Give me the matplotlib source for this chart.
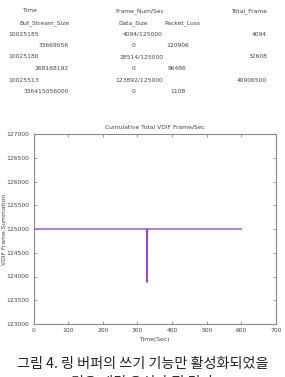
import matplotlib
matplotlib.use("Agg")
import matplotlib.pyplot as plt

# ---- data ----
header_top = ["Time", "Frame_Num/Sec", "Total_Frame"]
header_bottom = ["Buf_Stream_Size", "Data_Size", "Packet_Loss"]
rec_time = ["10025185", "10025186", "10025513"]
rec_frame_num = ["4094/125000", "28514/125000", "123892/125000"]
rec_total = ["4094", "32608", "40906500"]
rec_buf = ["33669056", "268168192", "336415056000"]
rec_data = ["0", "0", "0"]
rec_loss = ["120906", "96486", "1108"]

time_sec = [0, 1, 2, 327, 328, 329, 600]
frames_per_sec = [4094, 125000, 125000, 125000, 123880, 125000, 125000]

xticks = [0, 100, 200, 300, 400, 500, 600, 700]
yticks = [123000, 123500, 124000, 124500, 125000, 125500, 126000, 126500, 127000]

title = "Cumulative Total VDIF Frame/Sec"
xlabel = "Time(Sec)"
ylabel = "VDIF Frame Summation"
caption1 = "그림 4. 링 버퍼의 쓰기 기능만 활성화되었을"
caption2 = "경우 패킷 유실 측정 결과"

W, H = 285, 377
fig = plt.figure(figsize=(W / 100, H / 100), dpi=100)

def fx(px):
    return px / W

def fy(py):
    return 1 - py / H

tc = "#444444"
fs = 4.3
# header
fig.text(fx(22), fy(11), header_top[0], fontsize=fs, color=tc, va="center")
fig.text(fx(115), fy(11), header_top[1], fontsize=fs, color=tc, va="center")
fig.text(fx(267), fy(11), header_top[2], fontsize=fs, color=tc, va="center", ha="right")
fig.text(fx(19), fy(23), header_bottom[0], fontsize=fs, color=tc, va="center")
fig.text(fx(118), fy(23), header_bottom[1], fontsize=fs, color=tc, va="center")
fig.text(fx(164), fy(23), header_bottom[2], fontsize=fs, color=tc, va="center")

row_y = [34, 57, 80]
for i, y in enumerate(row_y):
    fig.text(fx(8), fy(y), rec_time[i], fontsize=fs, color=tc, va="center")
    fig.text(fx(163), fy(y), rec_frame_num[i], fontsize=fs, color=tc, va="center", ha="right")
    fig.text(fx(267), fy(y), rec_total[i], fontsize=fs, color=tc, va="center", ha="right")
    fig.text(fx(69), fy(y + 11.5), rec_buf[i], fontsize=fs, color=tc, va="center", ha="right")
    fig.text(fx(133), fy(y + 11.5), rec_data[i], fontsize=fs, color=tc, va="center", ha="center")
    fig.text(fx(166 + (2 if i == 1 else 0) + (4 if i == 2 else 0)), fy(y + 11.5), rec_loss[i],
             fontsize=fs, color=tc, va="center")

# axes
left, right, top, bottom = 33.5, 276, 134, 324
ax = fig.add_axes([fx(left), fy(bottom), fx(right - left), (bottom - top) / H])
ax.plot(time_sec, frames_per_sec, color="#9a45d8", lw=1.0)
ax.set_xlim(0, 700)
ax.set_ylim(123000, 127000)
ax.set_xticks(xticks)
ax.set_yticks(yticks)
ax.tick_params(direction="in", top=True, right=True, labelsize=fs, colors="#888888",
               labelcolor=tc, length=2.5, width=0.6, pad=3)
for s in ax.spines.values():
    s.set_color("#888888")
    s.set_linewidth(0.8)
ax.set_title(title, fontsize=fs, color=tc, pad=4)
ax.set_xlabel(xlabel, fontsize=fs, color=tc, labelpad=3)
fig.text(fx(4.5), fy(229), ylabel, fontsize=fs, color=tc, rotation=90, ha="center", va="center")

kfont = ["Noto Sans CJK KR", "DejaVu Sans"]
fig.text(0.5, fy(364), caption1, fontsize=10.2, family=kfont, ha="center", va="center", color="#222222")
fig.text(0.5, fy(383), caption2, fontsize=10.2, family=kfont, ha="center", va="center", color="#222222")

fig.savefig("out.png", dpi=100)
